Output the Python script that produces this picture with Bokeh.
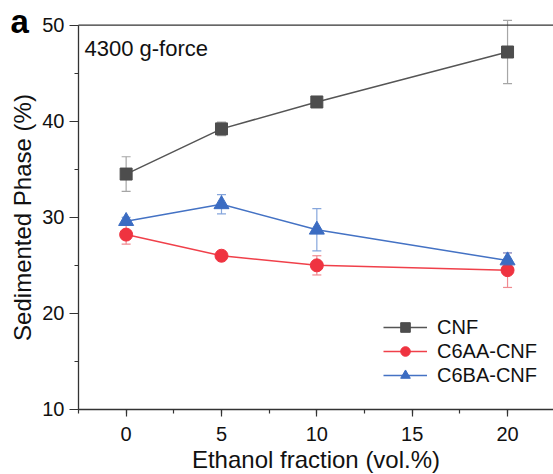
from bokeh.plotting import figure
from bokeh.models import (ColumnDataSource, Whisker, TeeHead, Legend, LegendItem,
                          SingleIntervalTicker, Label, Range1d)
from bokeh.embed import file_html
from bokeh.resources import INLINE

# ---- data ----
ethanol = [0, 5, 10, 20]
cnf = [34.5, 39.2, 42.0, 47.2]
cnf_err = [1.8, 0.7, 0.3, 3.3]
c6aa = [28.2, 26.0, 25.0, 24.5]
c6aa_err = [1.0, 0.3, 1.0, 1.8]
c6ba = [29.6, 31.35, 28.7, 25.5]
c6ba_err = [0.4, 1.0, 2.2, 0.8]
series_names = ["CNF", "C6AA-CNF", "C6BA-CNF"]
annotation_text = "4300 g-force"
panel_letter = "a"
x_label = "Ethanol fraction (vol.%)"
y_label = "Sedimented Phase (%)"
x_axis_limits = (-2.5, 22.41)
y_axis_limits = (10, 50)

FONT = "Liberation Sans"
AXC = "#333333"

# The frame covers the whole canvas; the axes sit at fixed data locations
p = figure(width=553, height=474, output_backend="svg", toolbar_location=None,
           x_range=Range1d(-6.588, 22.41), y_range=Range1d(3.236, 52.56),
           min_border_left=0, min_border_right=0, min_border_top=0, min_border_bottom=0)
p.outline_line_color = None
p.xgrid.visible = False
p.ygrid.visible = False
p.background_fill_color = "white"
p.border_fill_color = "white"

p.xaxis.ticker = SingleIntervalTicker(interval=5, num_minor_ticks=2)
p.yaxis.ticker = SingleIntervalTicker(interval=10, num_minor_ticks=2)
p.xaxis.bounds = x_axis_limits
p.yaxis.bounds = y_axis_limits
p.xaxis.fixed_location = y_axis_limits[0]
p.yaxis.fixed_location = x_axis_limits[0]
for ax in (p.xaxis, p.yaxis):
    ax.axis_line_color = AXC
    ax.axis_line_width = 1.3
    ax.major_tick_line_color = AXC
    ax.minor_tick_line_color = AXC
    ax.major_tick_line_width = 1.2
    ax.minor_tick_line_width = 1.2
    ax.major_tick_in = 0
    ax.minor_tick_in = 0
    ax.minor_tick_out = 4
    ax.major_label_text_font = FONT
    ax.major_label_text_font_size = "20px"
    ax.major_label_text_color = "#111111"
    ax.axis_label_text_font = FONT
    ax.axis_label_text_font_size = "24px"
    ax.axis_label_text_font_style = "normal"
    ax.axis_label_text_color = "#111111"
p.xaxis.major_tick_out = 7
p.yaxis.major_tick_out = 9
p.xaxis.axis_label = x_label
p.yaxis.axis_label = y_label
p.xaxis.major_label_standoff = 11
p.yaxis.major_label_standoff = 5
p.xaxis.axis_label_standoff = 1
p.yaxis.axis_label_standoff = 3

# top frame line
p.segment(x0=[x_axis_limits[0]], x1=[x_axis_limits[1]], y0=[y_axis_limits[1]], y1=[y_axis_limits[1]],
          line_color=AXC, line_width=1.3)

styles = [
    (cnf, cnf_err, "#555555", "#4d4d4d", "#a6a6a6", "square", 12),
    (c6aa, c6aa_err, "#f0404a", "#ef3340", "#f08a90", "circle", 13),
    (c6ba, c6ba_err, "#4472c4", "#3b6cc2", "#86a6dc", "triangle", 15),
]
items = []
for name, (vals, errs, lc, mc, ec, marker, size) in zip(series_names, styles):
    src = ColumnDataSource(dict(x=ethanol, y=vals,
                                lo=[v - e for v, e in zip(vals, errs)],
                                hi=[v + e for v, e in zip(vals, errs)]))
    w = Whisker(source=src, base="x", lower="lo", upper="hi", line_color=ec, line_width=1.2,
                upper_head=TeeHead(size=9, line_color=ec, line_width=1.2),
                lower_head=TeeHead(size=9, line_color=ec, line_width=1.2),
                level="underlay")
    p.add_layout(w)
    ln = p.line("x", "y", source=src, line_color=lc, line_width=1.5)
    sc = p.scatter("x", "y", source=src, marker=marker, size=size,
                   fill_color=mc, line_color=mc)
    items.append(LegendItem(label=name, renderers=[ln, sc]))

legend = Legend(items=items, location=(383, 87), padding=0, margin=0,
                border_line_color=None, background_fill_alpha=0,
                glyph_width=44, glyph_height=24, label_height=24, spacing=0,
                label_standoff=10, label_text_font=FONT, label_text_font_size="20px",
                label_text_color="#111111")
p.add_layout(legend)

p.add_layout(Label(x=x_axis_limits[0], y=y_axis_limits[1], x_offset=6, y_offset=-23,
                   text=annotation_text, text_font=FONT, text_font_size="22px",
                   text_color="#111111", text_baseline="alphabetic"))
p.add_layout(Label(x=x_axis_limits[0], y=y_axis_limits[1], x_offset=-68, y_offset=4,
                   text=panel_letter, text_font=FONT, text_font_size="33px",
                   text_font_style="bold", text_color="#000000", text_baseline="alphabetic"))

open("out.html", "w").write(file_html(p, INLINE))
